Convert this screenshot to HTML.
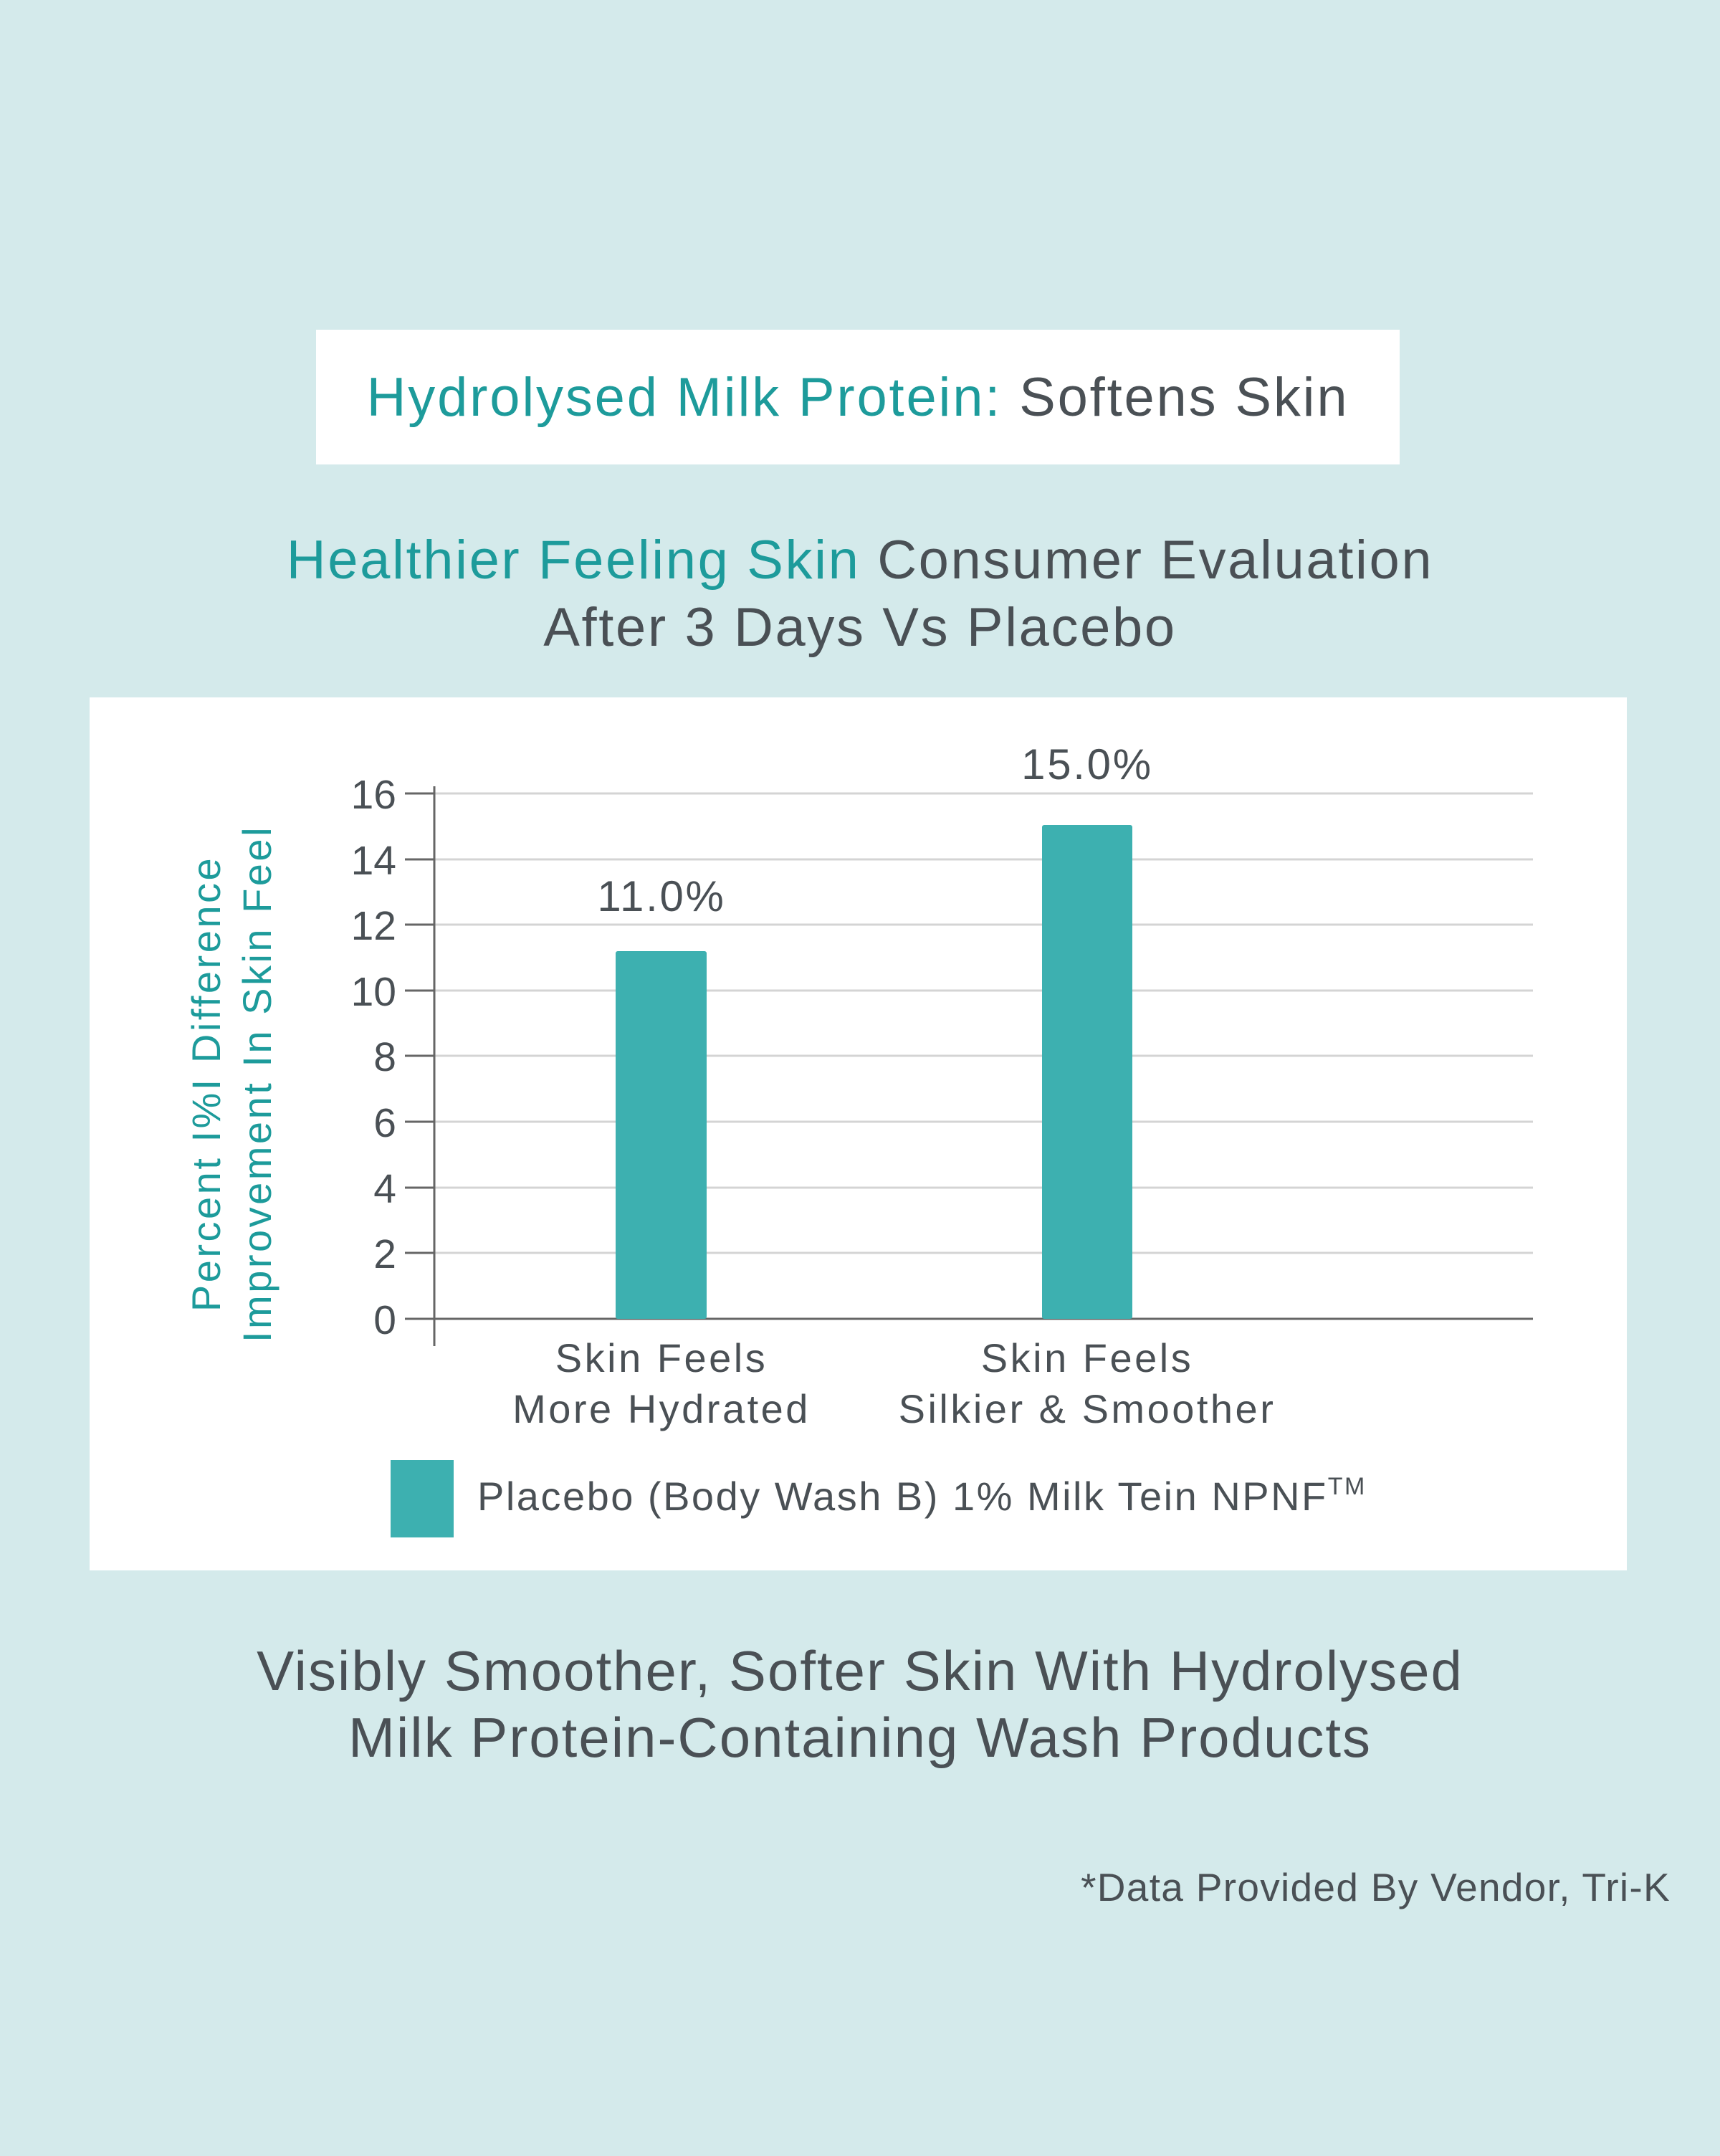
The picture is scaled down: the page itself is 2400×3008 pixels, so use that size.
<!DOCTYPE html>
<html><head><meta charset="utf-8"><style>
body{margin:0;width:2400px;height:3008px;background:#d4eaeb;font-family:"Liberation Sans","DejaVu Sans",sans-serif;position:relative;overflow:hidden;color:#4a5055}
.a{position:absolute;white-space:nowrap}
.t{color:#1d9b9b}
</style></head><body>
<div class="a" style="left:441px;top:460px;width:1512px;height:188px;background:#fff"></div>
<div class="a" style="left:441px;width:1512px;top:510px;text-align:center;font-size:76px;line-height:90px;letter-spacing:2.8px"><span class="t">Hydrolysed Milk Protein:</span> Softens Skin</div>
<div class="a" style="left:0;width:2400px;top:735px;text-align:center;font-size:76px;line-height:94px;letter-spacing:2.6px"><span class="t">Healthier Feeling Skin</span> Consumer Evaluation<br>After 3 Days Vs Placebo</div>
<div class="a" style="left:125px;top:973px;width:2145px;height:1218px;background:#fff"></div>
<svg class="a" style="left:0;top:0" width="2400" height="3008">
<g stroke="#d4d4d4" stroke-width="3">
<line x1="606" x2="2139" y1="1107" y2="1107"/><line x1="606" x2="2139" y1="1199" y2="1199"/><line x1="606" x2="2139" y1="1290" y2="1290"/><line x1="606" x2="2139" y1="1382" y2="1382"/><line x1="606" x2="2139" y1="1473" y2="1473"/><line x1="606" x2="2139" y1="1565" y2="1565"/><line x1="606" x2="2139" y1="1657" y2="1657"/><line x1="606" x2="2139" y1="1748" y2="1748"/>
</g>
<g stroke="#666" stroke-width="3">
<line x1="606" x2="606" y1="1097" y2="1878"/><line x1="565" x2="2139" y1="1840" y2="1840"/>
<line x1="565" x2="606" y1="1107" y2="1107"/><line x1="565" x2="606" y1="1199" y2="1199"/><line x1="565" x2="606" y1="1290" y2="1290"/><line x1="565" x2="606" y1="1382" y2="1382"/><line x1="565" x2="606" y1="1473" y2="1473"/><line x1="565" x2="606" y1="1565" y2="1565"/><line x1="565" x2="606" y1="1657" y2="1657"/><line x1="565" x2="606" y1="1748" y2="1748"/>
</g>
<rect x="859" y="1327" width="127" height="513" rx="3" fill="#3db0b0"/>
<rect x="1454" y="1151" width="126" height="689" rx="3" fill="#3db0b0"/>
<rect x="545" y="2037" width="88" height="108" fill="#3db0b0"/>
<g font-size="57" fill="#4a5055" text-anchor="end">
<text x="553" y="1128">16</text><text x="553" y="1220">14</text><text x="553" y="1311">12</text><text x="553" y="1403">10</text><text x="553" y="1494">8</text><text x="553" y="1586">6</text><text x="553" y="1678">4</text><text x="553" y="1769">2</text><text x="553" y="1861">0</text>
</g>
<g font-size="60" fill="#4a5055" text-anchor="middle" letter-spacing="2.7">
<text x="923" y="1271">11.0%</text><text x="1517" y="1087">15.0%</text>
</g>
<g font-size="56" fill="#4a5055" text-anchor="middle" letter-spacing="3.5">
<text x="923" y="1914">Skin Feels</text><text x="923" y="1985">More Hydrated</text>
<text x="1517" y="1914">Skin Feels</text><text x="1517" y="1985">Silkier &amp; Smoother</text>
</g>
<text x="666" y="2107" font-size="56" fill="#4a5055" letter-spacing="2.5">Placebo (Body Wash B) 1% Milk Tein NPNF<tspan font-size="34" dy="-22">TM</tspan></text>
<g font-size="56" fill="#1d9b9b" text-anchor="middle" letter-spacing="3.5">
<text transform="translate(307,1512) rotate(-90)">Percent I%I Difference</text>
<text transform="translate(378,1512) rotate(-90)">Improvement In Skin Feel</text>
</g>
</svg>
<div class="a" style="left:0;width:2400px;top:2285px;text-align:center;font-size:78px;line-height:93px;letter-spacing:2px">Visibly Smoother, Softer Skin With Hydrolysed<br>Milk Protein-Containing Wash Products</div>
<div class="a" style="right:69px;top:2600px;font-size:55px;line-height:66px;letter-spacing:1.3px">*Data Provided By Vendor, Tri-K</div>
</body></html>
